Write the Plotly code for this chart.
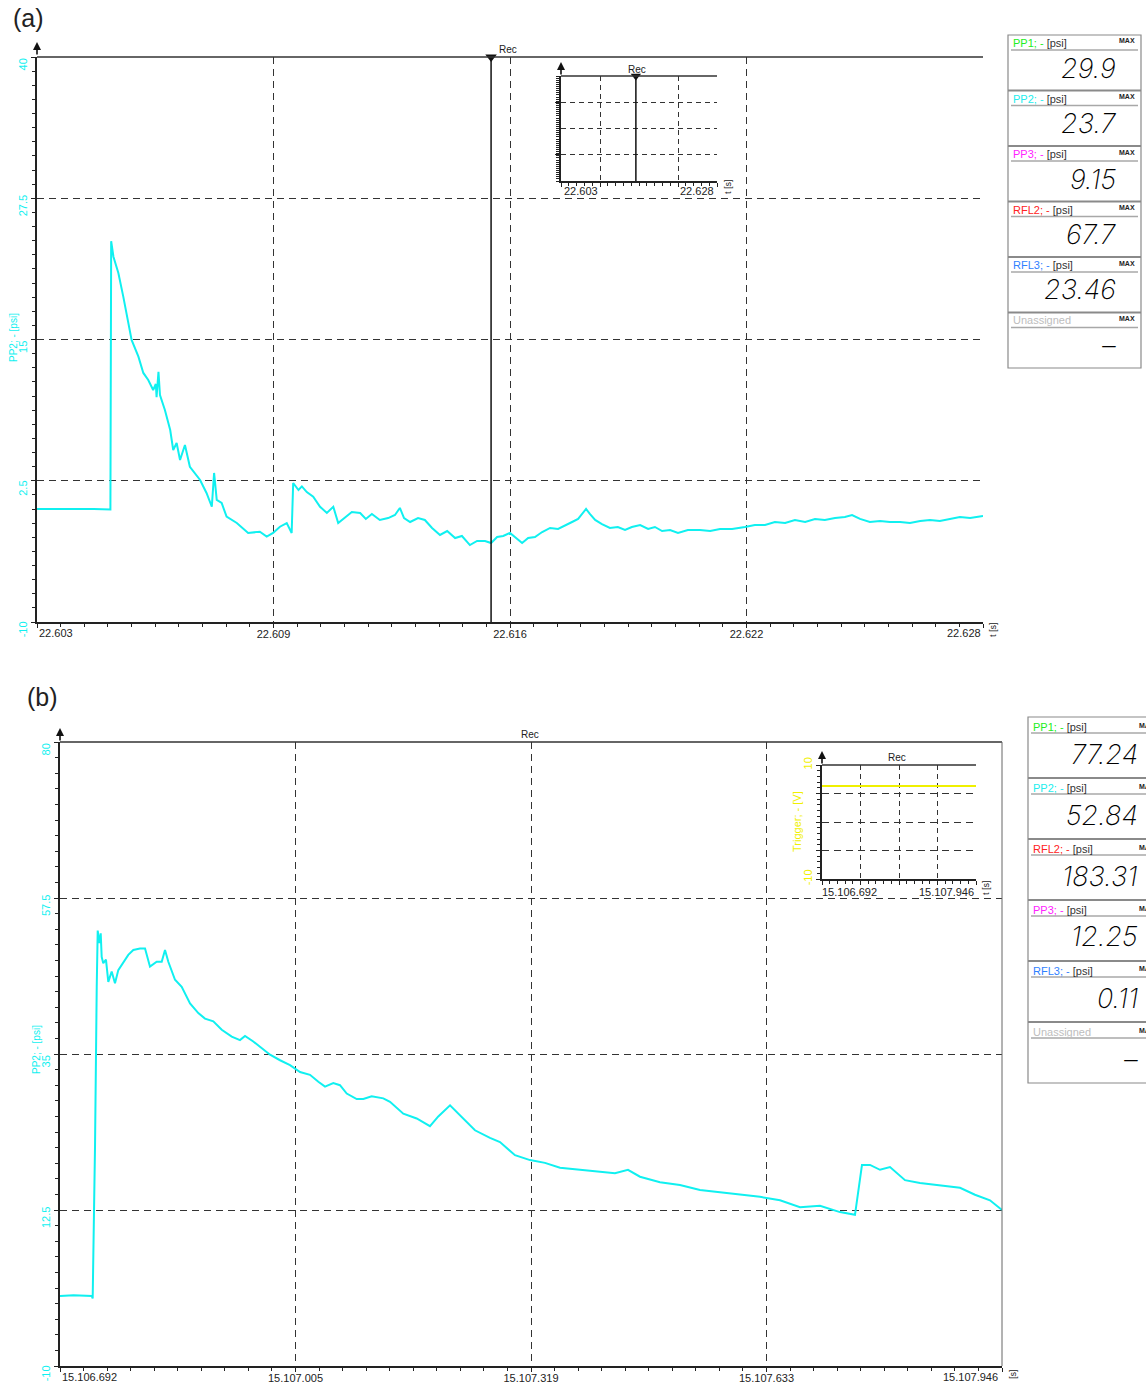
import plotly.graph_objects as go

W, H = 1146, 1385
FONT = "Liberation Sans, Arial, sans-serif"
CYAN = "#10F0F0"
YELLOW = "#F0F000"

# ---------------- panel (a) data ----------------
a_t = [22.60300, 22.60350, 22.60400, 22.60450, 22.60494, 22.60496, 22.60502, 22.60515,
       22.60528, 22.60541, 22.60550, 22.60568, 22.60581, 22.60594, 22.60607, 22.60614,
       22.60616, 22.60621, 22.60625, 22.60638, 22.60652, 22.60660, 22.60669, 22.60678,
       22.60691, 22.60704, 22.60731, 22.60748, 22.60762, 22.60768, 22.60775, 22.60788,
       22.60801, 22.60828, 22.60858, 22.60889, 22.60907, 22.60924, 22.60942, 22.60960,
       22.60973, 22.60977, 22.60991, 22.61000, 22.61013, 22.61030, 22.61048, 22.61066,
       22.61083, 22.61096, 22.61118, 22.61132, 22.61154, 22.61169, 22.61185, 22.61206,
       22.61228, 22.61246, 22.61259, 22.61270, 22.61286, 22.61307, 22.61325, 22.61344,
       22.61365, 22.61384, 22.61405, 22.61423, 22.61444, 22.61463, 22.61484, 22.61500,
       22.61516, 22.61532, 22.61550, 22.61566, 22.61582, 22.61598, 22.61616, 22.61635,
       22.61656, 22.61677, 22.61695, 22.61714, 22.61730, 22.61743, 22.61751, 22.61761,
       22.61775, 22.61793, 22.61814, 22.61835, 22.61854, 22.61872, 22.61894, 22.61915,
       22.61933, 22.61952, 22.61973, 22.61994, 22.62020, 22.62052, 22.62079, 22.62105,
       22.62137, 22.62171, 22.62197, 22.62224, 22.62250, 22.62277, 22.62303, 22.62330,
       22.62356, 22.62382, 22.62409, 22.62435, 22.62454, 22.62475, 22.62501, 22.62528,
       22.62554, 22.62581, 22.62607, 22.62634, 22.62660, 22.62686, 22.62713, 22.62739,
       22.62766, 22.62800]
a_v = [0.00, 0.02, -0.02, 0.01, -0.05, 23.70, 22.33, 20.88,
       18.79, 16.46, 14.96, 13.48, 12.04, 11.42, 10.53, 11.06,
       9.90, 12.15, 10.09, 8.76, 6.99, 5.22, 5.84, 4.34,
       5.66, 3.74, 2.57, 1.42, 0.20, 3.19, 0.80, 0.53,
       -0.68, -1.24, -2.12, -2.01, -2.45, -2.12, -1.57, -1.24,
       -2.12, 2.30, 1.68, 2.00, 1.50, 1.09, 0.20, -0.35,
       0.20, -1.24, -0.68, -0.27, -0.35, -0.88, -0.44, -0.97,
       -0.80, -0.53, 0.09, -0.80, -1.15, -0.80, -0.97, -1.68,
       -2.30, -1.95, -2.57, -2.39, -3.19, -2.83, -2.83, -3.01,
       -2.48, -2.39, -2.12, -2.57, -3.01, -2.57, -2.48, -2.04,
       -1.68, -1.77, -1.50, -1.15, -0.88, -0.27, 0.00, -0.44,
       -0.97, -1.33, -1.68, -1.59, -1.86, -1.59, -1.42, -1.77,
       -1.59, -1.95, -1.86, -2.12, -1.86, -1.86, -1.95, -1.77,
       -1.77, -1.59, -1.42, -1.42, -1.15, -1.24, -0.97, -1.15,
       -0.88, -0.97, -0.80, -0.71, -0.53, -0.88, -1.15, -1.06,
       -1.15, -1.15, -1.24, -1.06, -0.97, -1.06, -0.88, -0.71,
       -0.80, -0.62]
a_range_t = [22.603, 22.628]
a_range_v = [-10, 40]
a_grid_t = [22.603, 22.60925, 22.6155, 22.62175, 22.628]
a_xtick_text = ["22.603", "22.609", "22.616", "22.622", "22.628"]
a_grid_v = [-10, 2.5, 15, 27.5, 40]
a_ytick_text = ["-10", "2.5", "15", "27.5", "40"]
a_rec_t = 22.615
a_inset_grid_t = [22.603, 22.60925, 22.62175, 22.628]

a_side_names = ["PP1; -", "PP2; -", "PP3; -", "RFL2; -", "RFL3; -", "Unassigned"]
a_side_units = [" [psi]", " [psi]", " [psi]", " [psi]", " [psi]", ""]
a_side_colors = ["#22EE22", "#22EEEE", "#FF22FF", "#FF2222", "#2F7FFF", "#BDBDBD"]
a_side_values = ["29.9", "23.7", "9.15", "67.7", "23.46", "\u2013"]

# ---------------- panel (b) data ----------------
b_t = [15106.6920, 15106.7100, 15106.7342, 15106.7355, 15106.7373, 15106.7386, 15106.7409,
       15106.7422, 15106.7443, 15106.7462, 15106.7475, 15106.7496, 15106.7532, 15106.7563,
       15106.7608, 15106.7652, 15106.7696, 15106.7763, 15106.7829, 15106.7896, 15106.7985,
       15106.8052, 15106.8118, 15106.8207, 15106.8274, 15106.8318, 15106.8362, 15106.8451,
       15106.8540, 15106.8651, 15106.8761, 15106.8850, 15106.8961, 15106.9073, 15106.9206,
       15106.9316, 15106.9383, 15106.9493, 15106.9605, 15106.9716, 15106.9849, 15106.9982,
       15107.0115, 15107.0248, 15107.0359, 15107.0448, 15107.0558, 15107.0647, 15107.0737,
       15107.0870, 15107.0958, 15107.1069, 15107.1224, 15107.1313, 15107.1490, 15107.1668,
       15107.1845, 15107.1956, 15107.2112, 15107.2245, 15107.2444, 15107.2644, 15107.2777,
       15107.2977, 15107.3177, 15107.3376, 15107.3576, 15107.3842, 15107.4109, 15107.4308,
       15107.4481, 15107.4641, 15107.4907, 15107.5173, 15107.5440, 15107.5706, 15107.5972,
       15107.6238, 15107.6505, 15107.6771, 15107.7037, 15107.7303, 15107.7503, 15107.7596,
       15107.7703, 15107.7836, 15107.7969, 15107.8169, 15107.8368, 15107.8635, 15107.8901,
       15107.9100, 15107.9300, 15107.9460]
b_v = [0.1, 0.2, 0.1, -0.25, 12.5, 21.6, 44.7,
       52.8, 51.0, 52.4, 49.0, 48.1, 48.6, 45.4,
       46.9, 45.2, 47.1, 48.3, 49.3, 50.0, 50.2,
       50.2, 47.6, 48.3, 48.3, 50.0, 48.3, 45.7,
       44.7, 42.3, 40.9, 40.1, 39.7, 38.5, 37.5,
       37.0, 37.6, 36.8, 35.8, 34.9, 34.1, 33.4,
       32.4, 32.0, 31.0, 30.3, 30.8, 30.5, 29.3,
       28.5, 28.5, 28.9, 28.6, 28.1, 26.4, 25.7,
       24.6, 26.0, 27.6, 26.2, 24.0, 22.9, 22.3,
       20.4, 19.7, 19.3, 18.6, 18.3, 18.0, 17.8,
       18.3, 17.3, 16.5, 16.1, 15.4, 15.1, 14.7,
       14.4, 13.9, 12.9, 13.1, 12.2, 11.8, 19.0,
       19.0, 18.3, 18.7, 16.8, 16.4, 16.1, 15.7,
       14.7, 13.9, 12.5]
b_range_t = [15106.692, 15107.946]
b_range_v = [-10, 80]
b_grid_t = [15106.692, 15107.0055, 15107.319, 15107.6325, 15107.946]
b_xtick_text = ["15.106.692", "15.107.005", "15.107.319", "15.107.633", "15.107.946"]
b_grid_v = [-10, 12.5, 35, 57.5, 80]
b_ytick_text = ["-10", "12.5", "35", "57.5", "80"]
b_trig_t = [15106.692, 15107.946]
b_trig_v = [6.3, 6.3]
b_inset_grid_v = [-10, -5, 0, 5, 10]
b_inset_ytick_text = ["-10", "", "", "", "10"]

b_side_names = ["PP1; -", "PP2; -", "RFL2; -", "PP3; -", "RFL3; -", "Unassigned"]
b_side_units = [" [psi]", " [psi]", " [psi]", " [psi]", " [psi]", ""]
b_side_colors = ["#22EE22", "#22EEEE", "#FF2222", "#FF22FF", "#2F7FFF", "#BDBDBD"]
b_side_values = ["77.24", "52.84", "183.31", "12.25", "0.11", "\u2013"]


def PX(x):
    return x / W


def PY(y):
    return 1 - y / H


fig = go.Figure()

fig.add_trace(go.Scatter(x=a_t, y=a_v, mode="lines", line=dict(color=CYAN, width=2),
                         xaxis="x", yaxis="y", showlegend=False))
fig.add_trace(go.Scatter(x=[a_rec_t, a_rec_t], y=a_range_v, mode="lines",
                         line=dict(color="#111", width=1.5), xaxis="x", yaxis="y", showlegend=False))
fig.add_trace(go.Scatter(x=[a_rec_t], y=[a_range_v[1]], mode="markers", cliponaxis=False,
                         marker=dict(symbol="triangle-down", size=10, color="#111"),
                         xaxis="x", yaxis="y", showlegend=False))
fig.add_trace(go.Scatter(x=[a_rec_t, a_rec_t], y=a_range_v, mode="lines",
                         line=dict(color="#111", width=1.5), xaxis="x3", yaxis="y3", showlegend=False))
fig.add_trace(go.Scatter(x=[a_rec_t], y=[a_range_v[1]], mode="markers", cliponaxis=False,
                         marker=dict(symbol="triangle-down", size=9, color="#111"),
                         xaxis="x3", yaxis="y3", showlegend=False))
fig.add_trace(go.Scatter(x=b_t, y=b_v, mode="lines", line=dict(color=CYAN, width=2),
                         xaxis="x2", yaxis="y2", showlegend=False))
fig.add_trace(go.Scatter(x=b_trig_t, y=b_trig_v, mode="lines", line=dict(color=YELLOW, width=2),
                         xaxis="x4", yaxis="y4", showlegend=False))

AX = "#222222"
GRID = "#333333"


def xax(dom, rng, tv, tt, minor_dt, anchor, dash="7px,5px", fs=11):
    return dict(domain=dom, range=rng, anchor=anchor, tickmode="array", tickvals=tv, ticktext=tt,
                automargin=False, ticklabelstandoff=-3,
                showgrid=True, gridcolor=GRID, gridwidth=1, griddash=dash,
                showline=True, linecolor=AX, linewidth=2, ticks="outside", ticklen=4,
                tickcolor=AX, tickwidth=1.2, zeroline=False,
                tickfont=dict(family=FONT, size=fs, color="#222"),
                minor=dict(ticks="outside", ticklen=3, tickcolor=AX, tickwidth=1,
                           tick0=rng[0], dtick=minor_dt, showgrid=False))


def yax(dom, rng, tv, tt, minor_dt, anchor, color, show=True, dash="7px,5px", fs=11, shift=0):
    d = dict(domain=dom, range=rng, anchor=anchor, tickmode="array", tickvals=tv, ticktext=tt,
             automargin=False,
             showgrid=True, gridcolor=GRID, gridwidth=1, griddash=dash,
             showline=True, linecolor=AX, linewidth=2, ticks="outside", ticklen=4,
             tickcolor=AX, tickwidth=1.2, zeroline=False, tickangle=-90,
             showticklabels=show,
             tickfont=dict(family=FONT, size=fs, color=color),
             minor=dict(ticks="outside", ticklen=3, tickcolor=AX, tickwidth=1,
                        tick0=rng[0], dtick=minor_dt, showgrid=False))
    if shift:
        d["ticklabelshift"] = shift
    return d


blank5 = ["", "", "", "", ""]
fig.update_layout(
    template="none",
    width=W, height=H, margin=dict(l=0, r=0, t=0, b=0, autoexpand=False),
    paper_bgcolor="white", plot_bgcolor="white",
    xaxis=xax([PX(37), PX(983)], a_range_t, a_grid_t, ["", *a_xtick_text[1:4], ""], 0.000625, "y"),
    yaxis=yax([PY(622), PY(57)], a_range_v, a_grid_v, a_ytick_text, 1.25, "x", CYAN, shift=9),
    xaxis2=xax([PX(60), PX(1002)], b_range_t, b_grid_t, ["", *b_xtick_text[1:4], ""], 0.03135, "y2"),
    yaxis2=yax([PY(1366), PY(742)], b_range_v, b_grid_v, b_ytick_text, 2.25, "x2", CYAN, shift=9),
    xaxis3=xax([PX(561), PX(717)], a_range_t, a_inset_grid_t, ["", "", "", ""], 0.00125, "y3",
               dash="5px,4px"),
    yaxis3=yax([PY(181), PY(76)], a_range_v, a_grid_v, blank5, 1.0, "x3", CYAN, show=False,
               dash="5px,4px"),
    xaxis4=xax([PX(822), PX(976)], b_range_t, b_grid_t, blank5, 0.0627, "y4", dash="5px,4px"),
    yaxis4=yax([PY(879), PY(765)], [-10, 10], b_inset_grid_v, b_inset_ytick_text, 1.0, "x4",
               YELLOW, fs=11),
)

shapes = []
for xr, yr in [("x", "y"), ("x2", "y2"), ("x3", "y3"), ("x4", "y4")]:
    shapes.append(dict(type="line", xref=xr + " domain", yref=yr + " domain", x0=0, x1=1, y0=1, y1=1,
                       line=dict(color="#333", width=1.5)))
shapes.append(dict(type="line", xref="x2 domain", yref="y2 domain", x0=1, x1=1, y0=0, y1=1,
                   line=dict(color="#666", width=1)))

annotations = []


def ann(x, y, text, size=10, color="#222", xanchor="center", yanchor="middle", angle=0, **kw):
    annotations.append(dict(x=PX(x), y=PY(y), xref="paper", yref="paper", text=text, showarrow=False,
                            font=dict(family=FONT, size=size, color=color), xanchor=xanchor,
                            yanchor=yanchor, textangle=angle, **kw))


ann(28, 18, "(a)", size=25)
ann(42, 697, "(b)", size=25)

ann(13, 338, "PP2; - [psi]", size=10, color=CYAN, angle=-90)
ann(36, 1050, "PP2; - [psi]", size=10, color=CYAN, angle=-90)
ann(797, 822, "Trigger; - [V]", size=11, color=YELLOW, angle=-90)

ann(37, 633, a_xtick_text[0], xanchor="left", size=11)
ann(983, 633, a_xtick_text[-1], xanchor="right", size=11)
ann(60, 1377, b_xtick_text[0], xanchor="left", size=11)
ann(1000, 1377, b_xtick_text[-1], xanchor="right", size=11)
ann(562, 191, a_xtick_text[0], xanchor="left", size=11)
ann(716, 191, a_xtick_text[-1], xanchor="right", size=11)
ann(820, 892, b_xtick_text[0], xanchor="left", size=11)
ann(976, 892, b_xtick_text[-1], xanchor="right", size=11)

ann(993, 630, "t [s]", size=9, angle=-90)
ann(728, 187, "t [s]", size=9, angle=-90)
ann(1013, 1374, "[s]", size=9, angle=-90)
ann(986, 888, "t [s]", size=9, angle=-90)

ann(508, 49, "Rec", size=10)
ann(637, 69, "Rec", size=10)
ann(530, 734, "Rec", size=10)
ann(897, 757, "Rec", size=10)

for (xx, yy) in [(37, 42), (60, 728), (561, 62), (822, 751)]:
    annotations.append(dict(x=PX(xx), y=PY(yy), xref="paper", yref="paper", text="", showarrow=True,
                            ax=0, ay=14, arrowhead=2, arrowsize=1, arrowwidth=1.6, arrowcolor="#111"))


def side_panel(x0, x1, y0, y1, names, units, colors, values, num_right, max_x, max_anchor,
               hdr_dy, line_dy, num_dy):
    n = len(names)
    h = (y1 - y0) / n
    shapes.append(dict(type="rect", xref="paper", yref="paper", x0=PX(x0), x1=PX(x1),
                       y0=PY(y1), y1=PY(y0), line=dict(color="#8a8a8a", width=1.2),
                       fillcolor="white", layer="below"))
    for i in range(n):
        top = y0 + i * h
        if i > 0:
            shapes.append(dict(type="line", xref="paper", yref="paper", x0=PX(x0), x1=PX(x1),
                               y0=PY(top), y1=PY(top), line=dict(color="#8a8a8a", width=2)))
        shapes.append(dict(type="line", xref="paper", yref="paper", x0=PX(x0 + 3),
                           x1=PX(min(x1 - 3, 1146)),
                           y0=PY(top + line_dy), y1=PY(top + line_dy),
                           line=dict(color="#a8a8a8", width=1.5)))
        if units[i]:
            txt = f'<span style="color:{colors[i]}">{names[i]}</span>{units[i]}'
        else:
            txt = f'<span style="color:{colors[i]}">{names[i]}</span>'
        ann(x0 + 3, top + hdr_dy, txt, size=11, color="#333", xanchor="left")
        ann(max_x, top + hdr_dy - 2, "<b>MAX</b>", size=7, color="#222", xanchor=max_anchor)
        annotations.append(dict(x=PX(num_right), y=PY(top + num_dy), xref="paper", yref="paper",
                                text=values[i], showarrow=False, xanchor="right", yanchor="middle",
                                font=dict(family="Inter, sans-serif", size=27, color="#000",
                                          weight=200, style="italic")))


side_panel(1008, 1141, 35, 368, a_side_names, a_side_units, a_side_colors, a_side_values,
           1118, 1137, "right", 8, 15, 33)
side_panel(1028, 1152, 717, 1083, b_side_names, b_side_units, b_side_colors, b_side_values,
           1140, 1137, "left", 10, 16, 37)

fig.update_layout(shapes=shapes, annotations=annotations)
fig.write_html("out.html", config={"displayModeBar": False},
               post_script="document.body.style.margin='0px';document.body.style.overflow='hidden';")
